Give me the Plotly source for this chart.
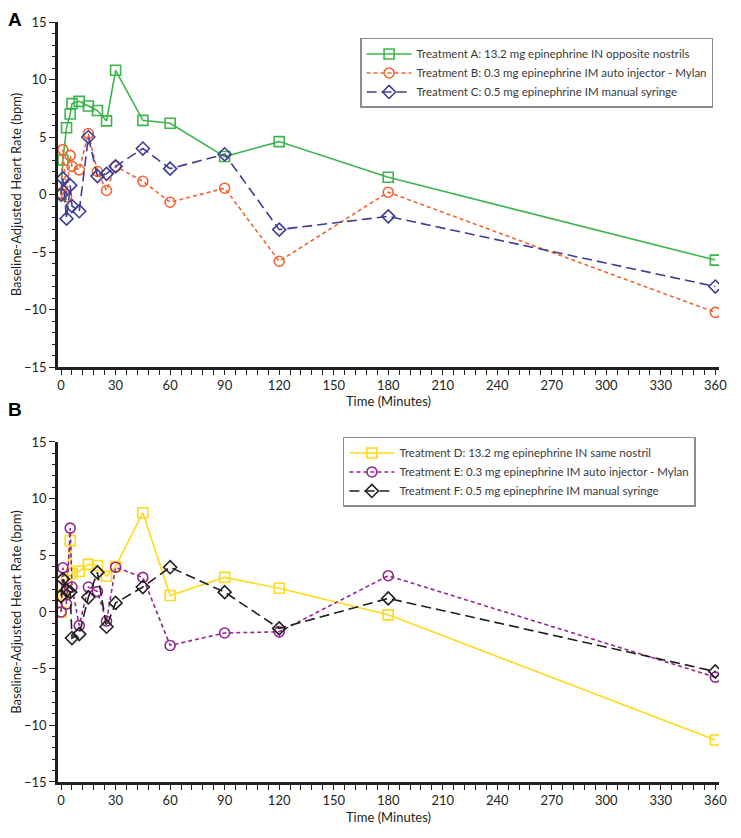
import plotly.graph_objects as go
from plotly.subplots import make_subplots

# time points (minutes)
time = [0, 1, 3, 5, 6, 10, 15, 20, 25, 30, 45, 60, 90, 120, 180, 360]

# panel A
trt_a = [0, 3.0, 5.8, 7.0, 7.9, 8.1, 7.7, 7.3, 6.4, 10.8, 6.45, 6.2, 3.3, 4.6, 1.5, -5.7]
trt_b = [0.1, 3.9, -0.2, 3.4, 2.45, 2.15, 5.3, 2.0, 0.35, 2.45, 1.15, -0.67, 0.55, -5.8, 0.2, -10.25]
trt_c = [0, 1.4, -2.1, 0.8, -1.0, -1.45, 5.0, 1.6, 1.8, 2.45, 4.0, 2.25, 3.5, -3.05, -1.9, -8.0]

# panel B
trt_d = [0, 1.5, 2.8, 6.3, 3.4, 3.6, 4.2, 4.1, 3.15, 4.0, 8.75, 1.45, 3.05, 2.1, -0.25, -11.3]
trt_e = [0, 3.9, 0.7, 7.4, 2.2, -1.2, 2.2, 1.8, -0.8, 3.95, 3.05, -2.95, -1.85, -1.75, 3.2, -5.75]
trt_f = [1.4, 2.9, 1.9, 1.75, -2.3, -1.95, 1.3, 3.5, -1.3, 0.8, 2.2, 3.95, 1.75, -1.45, 1.2, -5.25]

names_a = ["Treatment A: 13.2 mg epinephrine IN opposite nostrils",
           "Treatment B: 0.3 mg epinephrine IM auto injector - Mylan",
           "Treatment C: 0.5 mg epinephrine IM manual syringe"]
names_b = ["Treatment D: 13.2 mg epinephrine IN same nostril",
           "Treatment E: 0.3 mg epinephrine IM auto injector - Mylan",
           "Treatment F: 0.5 mg epinephrine IM manual syringe"]

x_ticks = list(range(0, 361, 30))
y_ticks = [-15, -10, -5, 0, 5, 10, 15]

fig = make_subplots(rows=2, cols=1, vertical_spacing=0.1)

styles = [
    ("#3DB54A", "solid", "square-open"),
    ("#F26532", "4px,3px", "circle-open"),
    ("#3F3C96", "10px,5px", "diamond-open"),
]
styles_b = [
    ("#FFD91A", "solid", "square-open"),
    ("#92278F", "4px,3px", "circle-open"),
    ("#231F20", "10px,5px", "diamond-open"),
]

for vals, name, (col, dash, sym) in zip([trt_a, trt_b, trt_c], names_a, styles):
    fig.add_trace(go.Scatter(
        x=time, y=vals, name=name, mode="lines+markers",
        line=dict(color=col, width=1.6, dash=dash),
        marker=dict(symbol=sym, size=10, color=col, line=dict(width=1.6)),
        legend="legend"
    ), row=1, col=1)

for vals, name, (col, dash, sym) in zip([trt_d, trt_e, trt_f], names_b, styles_b):
    fig.add_trace(go.Scatter(
        x=time, y=vals, name=name, mode="lines+markers",
        line=dict(color=col, width=1.6, dash=dash),
        marker=dict(symbol=sym, size=10, color=col, line=dict(width=1.6)),
        legend="legend2"
    ), row=2, col=1)

axis_font = dict(family="Lato, Open Sans, sans-serif", size=13, color="#231F20")

xaxis_style = dict(
    range=[-1.7, 362], tickvals=x_ticks, ticks="outside", ticklen=5, tickwidth=1,
    tickcolor="#231F20", showline=True, linecolor="#231F20", linewidth=2.5,
    showgrid=False, zeroline=False, tickfont=axis_font, automargin=False,
    minor=dict(dtick=6, tick0=0, ticks="outside", ticklen=5, tickcolor="#231F20"),
)
yaxis_style = dict(
    range=[-15, 15], tickvals=y_ticks, ticks="outside", ticklen=6, tickwidth=1,
    tickcolor="#231F20", showline=True, linecolor="#231F20", linewidth=2.5,
    showgrid=False, zeroline=False, tickfont=axis_font, automargin=False,
    minor=dict(dtick=1, ticks="outside", ticklen=3, tickcolor="#231F20"),
    title=dict(text="Baseline-Adjusted Heart Rate (bpm)", font=axis_font, standoff=8),
)

legend_font = dict(size=11.5, family="Lato, Open Sans, sans-serif", color="#3a3a3a")

# page body adds an 8px offset, so the figure is sized 8px smaller
fig.update_layout(
    width=733, height=830,
    margin=dict(l=50, r=22, t=14, b=56),
    plot_bgcolor="white", paper_bgcolor="white",
    font=dict(family="Lato, Open Sans, sans-serif", color="#231F20"),
    xaxis=dict(xaxis_style, domain=[0, 1],
               title=dict(text="Time (Minutes)", font=axis_font, standoff=0)),
    xaxis2=dict(xaxis_style, domain=[0, 1],
                title=dict(text="Time (Minutes)", font=axis_font, standoff=6)),
    yaxis=dict(yaxis_style, domain=[0.546, 1]),
    yaxis2=dict(yaxis_style, domain=[0, 0.4474]),
    legend=dict(x=0.457, y=0.979, xanchor="left", yanchor="top",
                bordercolor="#8c8c8c", borderwidth=1.5, bgcolor="white",
                font=legend_font, tracegroupgap=0, itemwidth=45),
    legend2=dict(x=0.431, y=0.454, xanchor="left", yanchor="top",
                 bordercolor="#8c8c8c", borderwidth=1.5, bgcolor="white",
                 font=legend_font, tracegroupgap=0, itemwidth=45),
    annotations=[
        dict(text="<b>A</b>", x=-0.079, y=1.02, xref="paper", yref="paper",
             showarrow=False, font=dict(size=19, family="Liberation Sans, Arial", color="black"),
             xanchor="left", yanchor="top"),
        dict(text="<b>B</b>", x=-0.079, y=0.506, xref="paper", yref="paper",
             showarrow=False, font=dict(size=19, family="Liberation Sans, Arial", color="black"),
             xanchor="left", yanchor="top"),
    ],
)

fig.write_html("out.html")
